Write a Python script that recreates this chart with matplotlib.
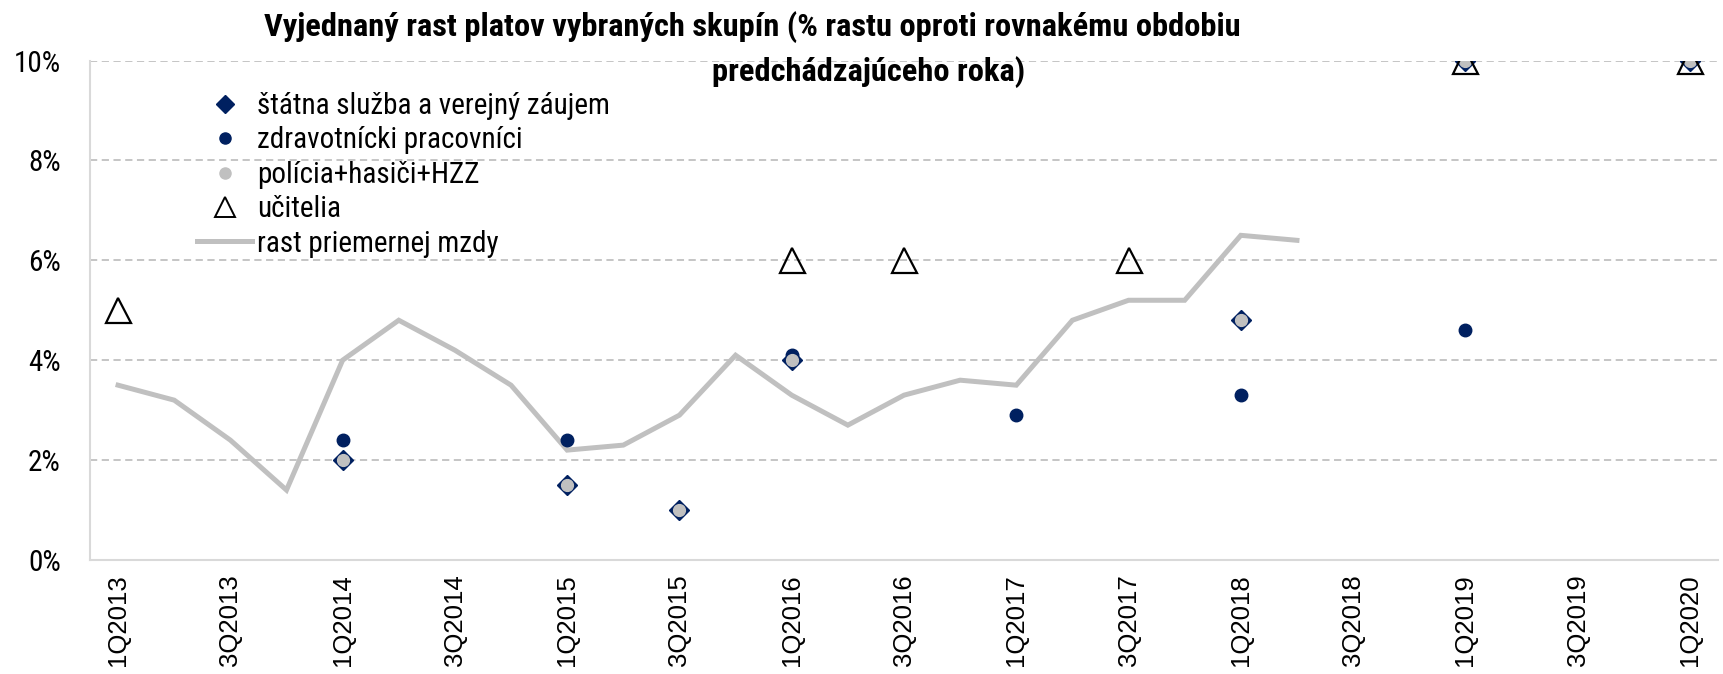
import matplotlib
matplotlib.use("Agg")
import matplotlib.pyplot as plt
from matplotlib.lines import Line2D

# quarters 1Q2013 .. 1Q2020
quarters = [f"{q}Q{y}" for y in range(2013, 2021) for q in range(1, 5)][:29]

# average wage growth (%), ends at 2Q2018
wage_growth = [3.5, 3.2, 2.4, 1.4, 4.0, 4.8, 4.2, 3.5, 2.2, 2.3, 2.9, 4.1,
               3.3, 2.7, 3.3, 3.6, 3.5, 4.8, 5.2, 5.2, 6.5, 6.4]

# negotiated wage growth by group (%), keyed by quarter label
state_service = {"1Q2014": 2.0, "1Q2015": 1.5, "3Q2015": 1.0, "1Q2016": 4.0,
                 "1Q2018": 4.8, "1Q2019": 10.0, "1Q2020": 10.0}
health_workers = {"1Q2014": 2.4, "1Q2015": 2.4, "1Q2016": 4.1, "1Q2017": 2.9,
                  "1Q2018": 3.3, "1Q2019": 4.6}
police_fire = {"1Q2014": 2.0, "1Q2015": 1.5, "3Q2015": 1.0, "1Q2016": 4.0,
               "1Q2018": 4.8, "1Q2019": 10.0, "1Q2020": 10.0}
teachers = {"1Q2013": 5.0, "1Q2016": 6.0, "3Q2016": 6.0, "3Q2017": 6.0,
            "1Q2019": 10.0, "1Q2020": 10.0}

labels = ["štátna služba a verejný záujem", "zdravotnícki pracovníci",
          "polícia+hasiči+HZZ", "učitelia", "rast priemernej mzdy"]

NAVY = "#002060"
GREY = "#c0c0c0"
NARROW = ["Roboto Condensed", "Liberation Sans", "DejaVu Sans"]

plt.rcParams["font.family"] = ["Liberation Sans", "DejaVu Sans"]


def as_xy(series):
    x = [quarters.index(k) for k in series]
    return x, list(series.values())


W, H = 1723, 674
fig = plt.figure(figsize=(W / 100, H / 100), dpi=100)
ax = fig.add_axes([90 / W, 1 - 560 / H, 1628 / W, 499.5 / H])

ax.plot(range(len(wage_growth)), wage_growth, color=GREY, lw=3.6, zorder=2,
        solid_joinstyle="miter")
x, y = as_xy(state_service)
ax.plot(x, y, ls="none", marker="D", ms=10, color=NAVY, zorder=3)
x, y = as_xy(health_workers)
ax.plot(x, y, ls="none", marker="o", ms=9, color=NAVY, zorder=4)
x, y = as_xy(police_fire)
ax.plot(x, y, ls="none", marker="o", ms=8.5, color=GREY, zorder=5)
x, y = as_xy(teachers)
ax.plot(x, y, ls="none", marker="^", ms=18, mfc="none", mec="black", mew=1.6, zorder=6)

ax.set_xlim(-0.5, len(quarters) - 0.5)
ax.set_ylim(0, 10)
ax.set_xticks(range(0, len(quarters), 2))
ax.set_xticklabels(quarters[::2], rotation=90, fontsize=18.5, va="top")
ax.set_yticks(range(0, 11, 2))
ax.set_yticklabels([f"{v}%" for v in range(0, 11, 2)], family=NARROW, fontsize=21)
ax.tick_params(axis="both", length=0)
ax.tick_params(axis="y", pad=21)
ax.tick_params(axis="x", pad=10)

ax.grid(axis="y", color=GREY, lw=1.3, dashes=(4, 2.5))
ax.set_axisbelow(True)
for side in ["top", "right"]:
    ax.spines[side].set_visible(False)
for side in ["left", "bottom"]:
    ax.spines[side].set_color("#d9d9d9")
    ax.spines[side].set_linewidth(1.5)

handles = [
    Line2D([], [], ls="none", marker="D", ms=9, color=NAVY),
    Line2D([], [], ls="none", marker="o", ms=8, color=NAVY),
    Line2D([], [], ls="none", marker="o", ms=8, color=GREY),
    Line2D([], [], ls="none", marker="^", ms=14, mfc="none", mec="black", mew=1.4),
    Line2D([], [], color=GREY, lw=3.6),
]
fig.legend(handles, labels, loc="upper left", bbox_to_anchor=(197 / W, 1 - 92 / H),
           frameon=False, borderpad=0, borderaxespad=0, handlelength=1.9,
           handletextpad=0.15, labelspacing=0.22, prop={"family": NARROW, "size": 21})

fig.text(752 / W, 1 - 27 / H,
         "Vyjednaný rast platov vybraných skupín (% rastu oproti rovnakému obdobiu",
         ha="center", va="center", fontsize=23.4, fontweight="bold", family=NARROW)
fig.text(869 / W, 1 - 72 / H, "predchádzajúceho roka)",
         ha="center", va="center", fontsize=23.4, fontweight="bold", family=NARROW)

fig.savefig("out.png", dpi=100)
